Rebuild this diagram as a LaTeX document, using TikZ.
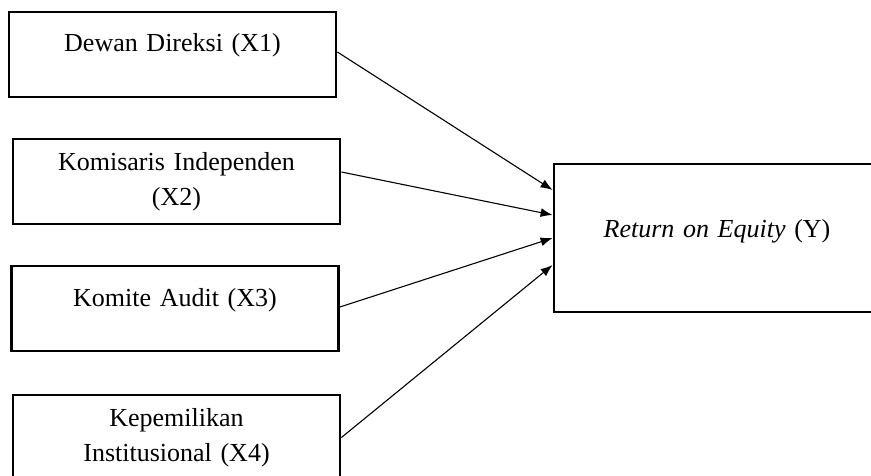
\documentclass[tikz,border=0pt]{standalone}
\usepackage{fontspec}
\setmainfont{Liberation Serif}
\usetikzlibrary{arrows.meta, positioning}

\begin{document}
\begin{tikzpicture}[x=1pt, y=1pt,
    block/.style={rectangle, draw, line width=2.8pt, minimum width=327pt, minimum height=85pt, text width=300pt, align=center, font=\fontsize{26}{35}\selectfont},
    arrow/.style={line width=1.1pt, -{Latex[length=12pt,width=9pt]}}]

    \useasboundingbox (0,0) rectangle (871,-475);
    \clip (0,0) rectangle (871,-475);

    \node [block, text depth=25pt] (x1) at (172.5,-54.5) {Dewan Direksi (X1)};
    \node [block] (x2) at (176.5,-181.5) {Komisaris Independen\\(X2)};
    \node [block, text depth=23pt] (x3) at (175,-308.5) {Komite Audit (X3)};
    \node [block] (x4) at (176.5,-437.5) {Kepemilikan\\Institusional (X4)};
    \node [block, minimum width=326pt, minimum height=148pt, text depth=20pt] (y) at (717,-238) {\textit{Return on Equity} (Y)};

    \draw [arrow] ([yshift=2.5pt]x1.east) -- ([yshift=48pt]y.west);
    \draw [arrow] ([yshift=9.5pt]x2.east) -- ([yshift=23pt]y.west);
    \draw [arrow] ([yshift=1.5pt]x3.east) -- (y.west);
    \draw [arrow] (x4.east) -- ([yshift=-27pt]y.west);
\end{tikzpicture}
\end{document}
